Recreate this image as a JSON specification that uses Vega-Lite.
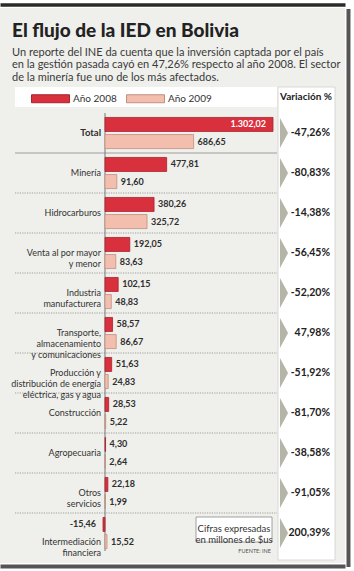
{
  "$schema": "https://vega.github.io/schema/vega-lite/v6.json",
  "width": 345,
  "height": 555,
  "autosize": {"type": "none"},
  "padding": {"left": 0, "top": 8, "right": 9, "bottom": 8},
  "background": "#ffffff",
  "title": {
    "text": "El flujo de la IED en Bolivia",
    "subtitle": [
      "Un reporte del INE da cuenta que la inversión captada por el país",
      "en la gestión pasada cayó en 47,26% respecto al año 2008. El sector",
      "de la minería fue uno de los más afectados."
    ],
    "anchor": "start",
    "frame": "group",
    "offset": 0,
    "dx": 12,
    "dy": 78,
    "font": "Lato",
    "fontSize": 19,
    "fontWeight": 900,
    "color": "#222222",
    "subtitleFont": "Lato",
    "subtitleFontSize": 11,
    "subtitleColor": "#3a3a3a",
    "subtitleLineHeight": 12.5,
    "subtitlePadding": 6
  },
  "config": {
    "view": {"fill": "#efefeb", "stroke": null},
    "locale": {"number": {"decimal": ",", "thousands": ".", "grouping": [3], "currency": ["$", ""], "minus": "-"}},
    "axis": {"domain": false, "ticks": false, "labels": false, "grid": false, "titleOpacity": 0},
    "text": {"font": "Lato"}
  },
  "datasets": {
    "one": [{}],
    "bars": [
      {"cat": "Total", "year": "2008", "value": 1302.02},
      {"cat": "Total", "year": "2009", "value": 686.65},
      {"cat": "Minería", "year": "2008", "value": 477.81},
      {"cat": "Minería", "year": "2009", "value": 91.60},
      {"cat": "Hidrocarburos", "year": "2008", "value": 380.26},
      {"cat": "Hidrocarburos", "year": "2009", "value": 325.72},
      {"cat": "Venta al por mayor y menor", "year": "2008", "value": 192.05},
      {"cat": "Venta al por mayor y menor", "year": "2009", "value": 83.63},
      {"cat": "Industria manufacturera", "year": "2008", "value": 102.15},
      {"cat": "Industria manufacturera", "year": "2009", "value": 48.83},
      {"cat": "Transporte, almacenamiento y comunicaciones", "year": "2008", "value": 58.57},
      {"cat": "Transporte, almacenamiento y comunicaciones", "year": "2009", "value": 86.67},
      {"cat": "Producción y distribución de energía eléctrica, gas y agua", "year": "2008", "value": 51.63},
      {"cat": "Producción y distribución de energía eléctrica, gas y agua", "year": "2009", "value": 24.83},
      {"cat": "Construcción", "year": "2008", "value": 28.53},
      {"cat": "Construcción", "year": "2009", "value": 5.22},
      {"cat": "Agropecuaria", "year": "2008", "value": 4.30},
      {"cat": "Agropecuaria", "year": "2009", "value": 2.64},
      {"cat": "Otros servicios", "year": "2008", "value": 22.18},
      {"cat": "Otros servicios", "year": "2009", "value": 1.99},
      {"cat": "Intermediación financiera", "year": "2008", "value": -15.46},
      {"cat": "Intermediación financiera", "year": "2009", "value": 15.52}
    ],
    "cats": [
      {"cat": "Total", "lbl": "Total", "var": -0.4726},
      {"cat": "Minería", "lbl": "Minería", "var": -0.8083},
      {"cat": "Hidrocarburos", "lbl": "Hidrocarburos", "var": -0.1438},
      {"cat": "Venta al por mayor y menor", "lbl": "Venta al por mayor\ny menor", "var": -0.5645},
      {"cat": "Industria manufacturera", "lbl": "Industria\nmanufacturera", "var": -0.5220},
      {"cat": "Transporte, almacenamiento y comunicaciones", "lbl": "Transporte,\nalmacenamiento\ny comunicaciones", "var": 0.4798},
      {"cat": "Producción y distribución de energía eléctrica, gas y agua", "lbl": "Producción y\ndistribución de energía\neléctrica, gas y agua", "var": -0.5192},
      {"cat": "Construcción", "lbl": "Construcción", "var": -0.8170},
      {"cat": "Agropecuaria", "lbl": "Agropecuaria", "var": -0.3858},
      {"cat": "Otros servicios", "lbl": "Otros\nservicios", "var": -0.9105},
      {"cat": "Intermediación financiera", "lbl": "Intermediación\nfinanciera", "var": 2.0039}
    ]
  },
  "resolve": {"axis": {"x": "independent"}},
  "layer": [
    {
      "data": {"name": "one"},
      "mark": {"type": "rect", "fill": "#ffffff"},
      "encoding": {
        "x": {"datum": -697.5, "type": "quantitative", "title": null,
              "scale": {"domain": [-813.8, 1860], "nice": false, "zero": false},
              "axis": {"orient": "top", "domain": true, "domainColor": "#2a2a2a", "domainWidth": 3.5, "offset": 3.5, "title": null}},
        "x2": {"datum": 1333},
        "y": {"datum": "Total", "type": "nominal", "bandPosition": -0.65, "title": null, "axis": null,
              "scale": {"domain": ["Total", "Minería", "Hidrocarburos", "Venta al por mayor y menor", "Industria manufacturera", "Transporte, almacenamiento y comunicaciones", "Producción y distribución de energía eléctrica, gas y agua", "Construcción", "Agropecuaria", "Otros servicios", "Intermediación financiera"],
                        "range": [105, 545], "paddingInner": 0, "paddingOuter": 0}},
        "y2": {"datum": "Total", "bandPosition": -0.15}
      }
    },
    {
      "data": {"name": "one"},
      "mark": {"type": "rect", "fill": "#ffffff", "stroke": "#d0d0cc", "strokeWidth": 0.8},
      "encoding": {
        "x": {"datum": 1340.8, "type": "quantitative", "title": null,
              "axis": {"orient": "bottom", "domain": true, "domainColor": "#555555", "domainWidth": 4, "offset": 3, "title": null}},
        "x2": {"datum": 1782.5},
        "y": {"datum": "Total", "type": "nominal", "bandPosition": -0.65, "axis": null},
        "y2": {"datum": "Intermediación financiera", "bandPosition": 1.175}
      }
    },
    {
      "data": {"name": "one"},
      "mark": {"type": "rule", "stroke": "#555555", "strokeWidth": 4},
      "encoding": {
        "x": {"datum": 1887, "type": "quantitative", "axis": null},
        "y": {"datum": "Total", "type": "nominal", "bandPosition": -2.6, "axis": null},
        "y2": {"datum": "Intermediación financiera", "bandPosition": 1.35}
      }
    },
    {
      "data": {"name": "cats"},
      "transform": [{"filter": "datum.cat !== 'Intermediación financiera'"}],
      "mark": {"type": "rule", "stroke": "#8c8c88", "strokeWidth": 0.8},
      "encoding": {
        "x": {"datum": -697.5, "type": "quantitative", "axis": null},
        "x2": {"datum": 1333},
        "y": {"field": "cat", "type": "nominal", "bandPosition": 1, "axis": null},
        "strokeDash": {"condition": {"test": "datum.cat === 'Total'", "value": [1, 0]}, "value": [1.2, 1.2]}
      }
    },
    {
      "data": {"name": "one"},
      "mark": {"type": "rule", "stroke": "#777777", "strokeWidth": 1},
      "encoding": {
        "x": {"datum": 0, "type": "quantitative", "axis": null},
        "y": {"datum": "Total", "type": "nominal", "bandPosition": 0, "axis": null},
        "y2": {"datum": "Intermediación financiera", "bandPosition": 0.95}
      }
    },
    {
      "data": {"name": "bars"},
      "mark": {"type": "bar", "strokeWidth": 0.8},
      "encoding": {
        "y": {"field": "cat", "type": "nominal", "axis": null},
        "yOffset": {"field": "year", "type": "nominal", "scale": {"paddingInner": 0.18, "paddingOuter": 0.26}},
        "x": {"field": "value", "type": "quantitative", "axis": null},
        "fill": {"field": "year", "type": "nominal",
                 "scale": {"domain": ["2008", "2009"], "range": ["#d9303e", "#f3bead"]},
                 "legend": {"orient": "none", "legendX": 31, "legendY": 71, "direction": "horizontal", "title": null,
                            "symbolType": "M-1,-0.21H1V0.21H-1Z", "symbolSize": 1444, "symbolStrokeWidth": 1,
                            "labelFont": "Lato", "labelFontSize": 10, "labelColor": "#333333",
                            "labelOffset": 3, "columnPadding": 7, "padding": 0,
                            "labelExpr": "'Año ' + datum.label"}},
        "stroke": {"field": "year", "type": "nominal",
                   "scale": {"domain": ["2008", "2009"], "range": ["#a8232e", "#c08f80"]},
                   "legend": {"orient": "none", "legendX": 31, "legendY": 71, "direction": "horizontal", "title": null,
                            "symbolType": "M-1,-0.21H1V0.21H-1Z", "symbolSize": 1444, "symbolStrokeWidth": 1,
                            "labelFont": "Lato", "labelFontSize": 10, "labelColor": "#333333",
                            "labelOffset": 3, "columnPadding": 7, "padding": 0,
                            "labelExpr": "'Año ' + datum.label"}}
      }
    },
    {
      "data": {"name": "bars"},
      "transform": [{"filter": "datum.value >= 0 && !(datum.cat === 'Total' && datum.year === '2008')"}],
      "mark": {"type": "text", "align": "left", "baseline": "middle", "dx": 4, "fontSize": 9, "fontWeight": "bold", "fill": "#2e2e2e"},
      "encoding": {
        "y": {"field": "cat", "type": "nominal", "axis": null},
        "yOffset": {"field": "year", "type": "nominal"},
        "x": {"field": "value", "type": "quantitative", "axis": null},
        "text": {"field": "value", "type": "quantitative", "format": ",.2f"}
      }
    },
    {
      "data": {"name": "bars"},
      "transform": [{"filter": "datum.cat === 'Total' && datum.year === '2008'"}],
      "mark": {"type": "text", "align": "right", "baseline": "middle", "dx": -7, "fontSize": 9, "fontWeight": "bold", "fill": "#ffffff"},
      "encoding": {
        "y": {"field": "cat", "type": "nominal", "axis": null},
        "yOffset": {"field": "year", "type": "nominal"},
        "x": {"field": "value", "type": "quantitative", "axis": null},
        "text": {"field": "value", "type": "quantitative", "format": ",.2f"}
      }
    },
    {
      "data": {"name": "bars"},
      "transform": [{"filter": "datum.value < 0"}],
      "mark": {"type": "text", "align": "right", "baseline": "middle", "dx": -7, "fontSize": 9, "fontWeight": "bold", "fill": "#2e2e2e"},
      "encoding": {
        "y": {"field": "cat", "type": "nominal", "axis": null},
        "yOffset": {"field": "year", "type": "nominal"},
        "x": {"field": "value", "type": "quantitative", "axis": null},
        "text": {"field": "value", "type": "quantitative", "format": ",.2f"}
      }
    },
    {
      "data": {"name": "cats"},
      "transform": [{"filter": "datum.cat === 'Total'"}],
      "mark": {"type": "text", "align": "right", "baseline": "middle", "dx": -4, "fontSize": 9.5, "fontWeight": "bold", "fill": "#2e2e2e"},
      "encoding": {
        "y": {"field": "cat", "type": "nominal", "axis": null},
        "x": {"datum": 0, "type": "quantitative", "axis": null},
        "text": {"field": "lbl"}
      }
    },
    {
      "data": {"name": "cats"},
      "transform": [{"filter": "datum.cat !== 'Total' && datum.cat !== 'Intermediación financiera'"}],
      "mark": {"type": "text", "align": "right", "baseline": "middle", "dx": -4, "fontSize": 9, "lineHeight": 11, "lineBreak": "\n", "fill": "#333333"},
      "encoding": {
        "y": {"field": "cat", "type": "nominal", "axis": null},
        "x": {"datum": 0, "type": "quantitative", "axis": null},
        "text": {"field": "lbl"}
      }
    },
    {
      "data": {"name": "cats"},
      "transform": [{"filter": "datum.cat === 'Intermediación financiera'"}],
      "mark": {"type": "text", "align": "right", "baseline": "middle", "dx": -4, "fontSize": 9, "lineHeight": 11, "lineBreak": "\n", "fill": "#333333"},
      "encoding": {
        "y": {"field": "cat", "type": "nominal", "bandPosition": 0.72, "axis": null},
        "x": {"datum": 0, "type": "quantitative", "axis": null},
        "text": {"field": "lbl"}
      }
    },
    {
      "data": {"name": "cats"},
      "mark": {"type": "point", "shape": "M-0.27,-1L0.27,0L-0.27,1Z", "size": 900, "filled": true, "fill": "#b4b4a7", "opacity": 1, "strokeWidth": 0},
      "encoding": {
        "y": {"field": "cat", "type": "nominal", "axis": null},
        "x": {"datum": 1387.3, "type": "quantitative", "axis": null}
      }
    },
    {
      "data": {"name": "cats"},
      "mark": {"type": "text", "align": "right", "baseline": "middle", "fontSize": 10.5, "fontWeight": "bold", "fill": "#222222"},
      "encoding": {
        "y": {"field": "cat", "type": "nominal", "axis": null},
        "x": {"datum": 1743.8, "type": "quantitative", "axis": null},
        "text": {"field": "var", "type": "quantitative", "format": ".2%"}
      }
    },
    {
      "data": {"name": "one"},
      "mark": {"type": "text", "text": "Variación %", "align": "right", "baseline": "middle", "fontSize": 10, "fontWeight": "bold", "fill": "#222222"},
      "encoding": {
        "y": {"datum": "Total", "type": "nominal", "bandPosition": -0.4, "axis": null},
        "x": {"datum": 1759.3, "type": "quantitative", "axis": null}
      }
    },
    {
      "data": {"name": "one"},
      "mark": {"type": "rect", "fill": "#ffffff", "stroke": "#8a8a8a", "strokeWidth": 0.8},
      "encoding": {
        "x": {"datum": 705.3, "type": "quantitative", "axis": null},
        "x2": {"datum": 1294.3},
        "y": {"datum": "Intermediación financiera", "type": "nominal", "bandPosition": 0.1, "axis": null},
        "y2": {"datum": "Intermediación financiera", "bandPosition": 0.725}
      }
    },
    {
      "data": {"name": "one"},
      "mark": {"type": "text", "text": "Cifras expresadas\nen millones de $us", "lineBreak": "\n", "lineHeight": 11, "align": "center", "baseline": "middle", "fontSize": 9.5, "fill": "#333333"},
      "encoding": {
        "y": {"datum": "Intermediación financiera", "type": "nominal", "bandPosition": 0.41, "axis": null},
        "x": {"datum": 999.8, "type": "quantitative", "axis": null}
      }
    },
    {
      "data": {"name": "one"},
      "mark": {"type": "text", "text": "FUENTE: INE", "align": "right", "baseline": "middle", "fontSize": 5.5, "fill": "#555555"},
      "encoding": {
        "y": {"datum": "Intermediación financiera", "type": "nominal", "bandPosition": 0.95, "axis": null},
        "x": {"datum": 1286.5, "type": "quantitative", "axis": null}
      }
    }
  ]
}
